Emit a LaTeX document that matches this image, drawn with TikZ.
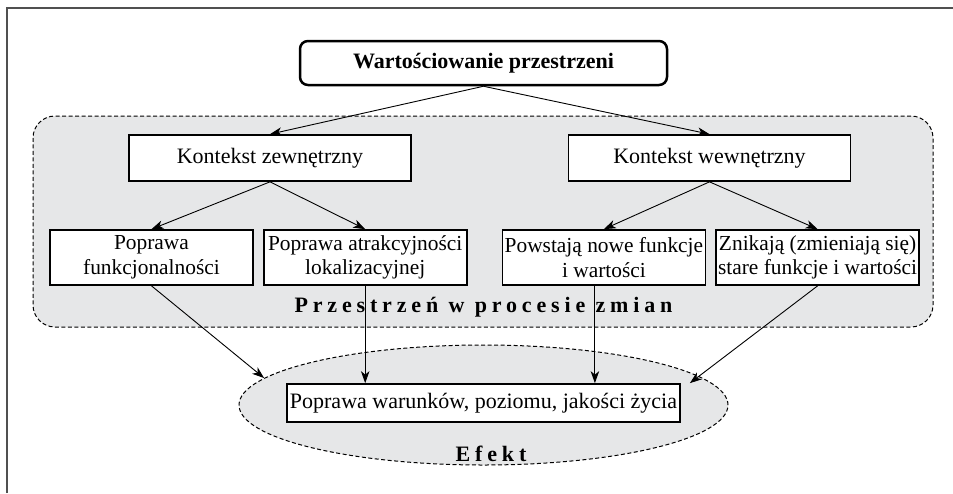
\documentclass[tikz,border=0pt]{standalone}
\usepackage{fontspec}
\setmainfont{Liberation Serif}
\newfontfamily\spacedfont[LetterSpace=22]{Liberation Serif}
\usetikzlibrary{positioning,arrows.meta,shapes.geometric}
\definecolor{areagray}{RGB}{230,231,232}
\definecolor{framegray}{RGB}{80,80,80}

\begin{document}
\begin{tikzpicture}[
	x=1pt, y=-1pt,
	box/.style={draw, line width=1.7pt, fill=white, align=center, inner xsep=1pt, inner ysep=2pt, font=\fontsize{22}{24.5}\selectfont},
	topbox/.style={box, line width=2.5pt, rounded corners=8pt, minimum width=367pt, minimum height=44pt, font=\bfseries\fontsize{22}{24.5}\selectfont},
	ctxbox/.style={box, minimum width=282pt, minimum height=46pt},
	subbox/.style={box, inner xsep=0pt, minimum width=203pt, minimum height=55pt, font=\fontsize{21.4}{24.5}\selectfont},
	area/.style={draw, dash pattern=on 4pt off 2.5pt, line width=1pt, fill=areagray},
	tag/.style={font=\spacedfont\bfseries\fontsize{22}{24.5}\selectfont},
	link/.style={->, line width=0.9pt},
	>={Stealth[length=12pt, width=8.5pt, inset=3.5pt]}
]
	\useasboundingbox (0,0) rectangle (953,493);
	\draw[framegray, line width=2pt] (6.5,493) -- (6.5,8) -- (953,8);

	% grey areas
	\node[area, rounded corners=22pt, minimum width=900pt, minimum height=211pt] (space) at (483,221.5) {};
	\node[area, ellipse, minimum width=489pt, minimum height=120pt] (effect) at (483.5,405) {};

	\node[topbox] (eval) at (483.5,63) {Wartościowanie przestrzeni};
	\node[ctxbox] (outer) at (270,158) {Kontekst zewnętrzny};
	\node[ctxbox] (inner) at (709.5,158) {Kontekst wewnętrzny};

	\node[subbox] (func) at (151.5,257.5) {Poprawa\\funkcjonalności};
	\node[subbox, right=9pt of func] (attr) {Poprawa atrakcyjności\\lokalizacyjnej};
	\node[subbox, right=34pt of attr] (newfn) {Powstają nowe funkcje\\i wartości};
	\node[subbox, right=9pt of newfn] (oldfn) {Znikają (zmieniają się)\\stare funkcje i wartości};

	\node[box, minimum width=393pt, minimum height=38pt] (result) at (483.5,403) {Poprawa warunków, poziomu, jakości życia};

	\node[tag] (spacelbl) at (483.5,307) {Przestrzeń w procesie zmian};
	\node[tag] (effectlbl) at (491,454) {Efekt};

	\draw[link] (eval.south) -- (outer.north);
	\draw[link] (eval.south) -- (inner.north);
	\draw[link] (outer.south) -- (func.north);
	\draw[link] (outer.south) -- (attr.north);
	\draw[link] (inner.south) -- (newfn.north);
	\draw[link] (inner.south) -- (oldfn.north);
	\draw[link] (func.south) -- (effect.173);
	\draw[link] (attr.south) -- (attr.south |- result.north);
	\draw[link] ([xshift=-9pt]newfn.south) -- ([xshift=-9pt]newfn.south |- result.north);
	\draw[link] (oldfn.south) -- ([xshift=9pt]result.north east);
\end{tikzpicture}
\end{document}
